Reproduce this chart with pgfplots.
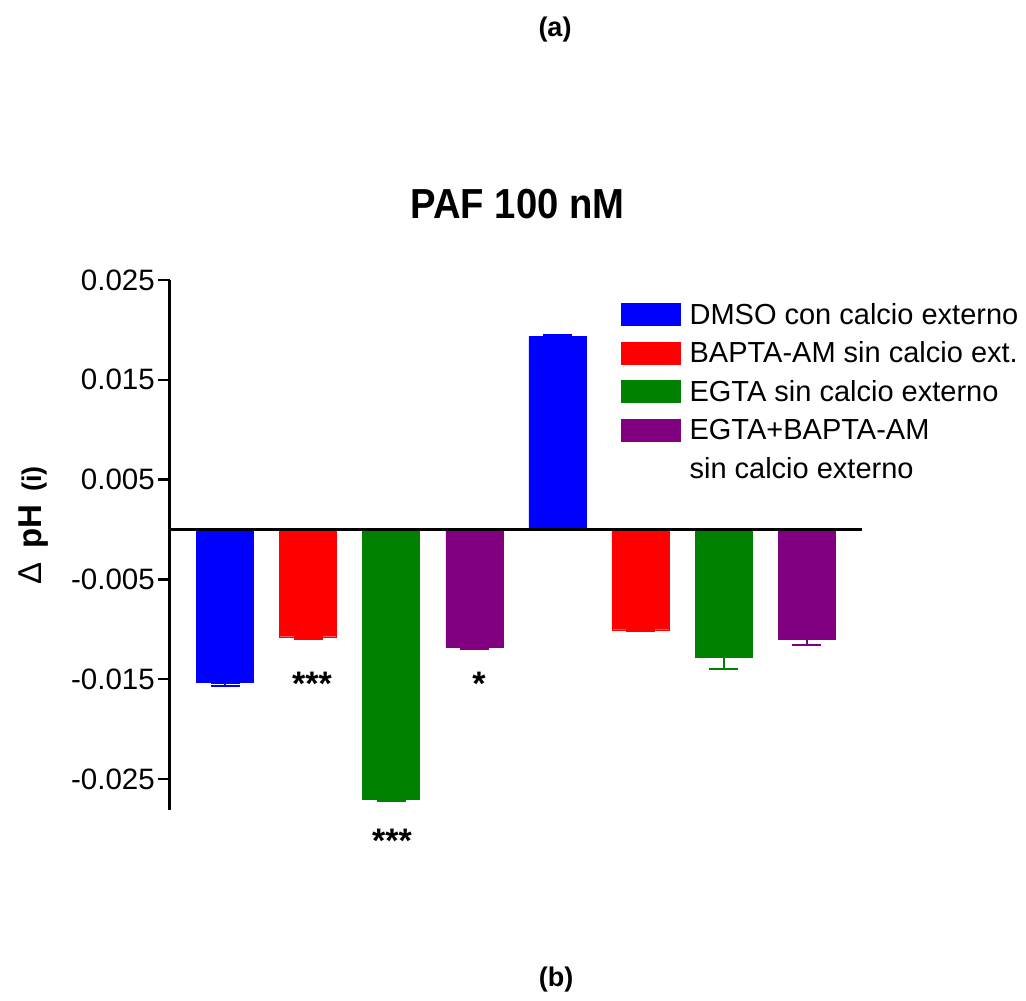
\documentclass[border=0pt]{standalone}
\usepackage{fontspec}
\setmainfont{Liberation Sans}
\usepackage{graphicx}
\usepackage{pgfplots}
\pgfplotsset{compat=1.18}
\definecolor{cblue}{RGB}{0,0,255}
\definecolor{cred}{RGB}{255,0,0}
\definecolor{cgreen}{RGB}{0,128,0}
\definecolor{cpurple}{RGB}{128,0,128}
\begin{document}
\begin{tikzpicture}
\path[use as bounding box] (-170pt,-191pt) rectangle (856pt,810pt);
\begin{axis}[
  at={(0pt,0pt)}, anchor=south west,
  scale only axis, width=692pt, height=530pt,
  xmin=-0.662, xmax=7.666, ymin=-0.0281, ymax=0.025,
  axis x line=none, axis y line=left,
  y axis line style={-, line width=3pt},
  ytick={-0.025,-0.015,-0.005,0.005,0.015,0.025},
  yticklabels={-0.025,-0.015,-0.005,0.005,0.015,0.025},
  scaled y ticks=false,
  tick align=outside, major tick length=12pt,
  tick style={line width=2.5pt, black},
  yticklabel style={font=\fontsize{29.5}{34}\selectfont, inner sep=0pt, xshift=-3pt},
  ybar, bar width=57pt, bar shift=0pt,
  clip=false,
  legend style={draw=none, fill=none, at={(0.6517,0.9566)}, anchor=north west,
    inner sep=0pt, nodes={inner sep=0pt}, row sep=16pt, column sep=9pt,
    font=\fontsize{29}{34}\selectfont},
  legend cell align=left,
]
\addplot[bar shift=0pt, fill=cblue, draw=cblue,
  legend image code/.code={\fill[cblue] (0pt,-11pt) rectangle (59pt,11pt);},
  error bars/.cd, y dir=both, y explicit,
  error bar style={line width=2pt, cblue},
  error mark options={cblue, line width=2pt, mark size=14.5pt, rotate=90}]
  coordinates {(0,-0.01534) += (0,0) -= (0,0.0003) (4,0.01933) += (0,0.00017) -= (0,0)};
\addlegendentry{DMSO con calcio externo}
\addplot[bar shift=0pt, fill=cred, draw=cred,
  legend image code/.code={\fill[cred] (0pt,-11pt) rectangle (59pt,11pt);},
  error bars/.cd, y dir=both, y explicit,
  error bar style={line width=2pt, cred},
  error mark options={cred, line width=2pt, mark size=14.5pt, rotate=90}]
  coordinates {(1,-0.01074) += (0,0) -= (0,0.00026) (5,-0.01004) += (0,0) -= (0,0.0001)};
\addlegendentry{BAPTA-AM sin calcio ext.}
\addplot[bar shift=0pt, fill=cgreen, draw=cgreen,
  legend image code/.code={\fill[cgreen] (0pt,-11pt) rectangle (59pt,11pt);},
  error bars/.cd, y dir=both, y explicit,
  error bar style={line width=2pt, cgreen},
  error mark options={cgreen, line width=2pt, mark size=14.5pt, rotate=90}]
  coordinates {(2,-0.0270) += (0,0) -= (0,0.0002) (6,-0.01277) += (0,0) -= (0,0.00117)};
\addlegendentry{EGTA sin calcio externo}
\addplot[bar shift=0pt, fill=cpurple, draw=cpurple,
  legend image code/.code={\fill[cpurple] (0pt,-11pt) rectangle (59pt,11pt);},
  error bars/.cd, y dir=both, y explicit,
  error bar style={line width=2pt, cpurple},
  error mark options={cpurple, line width=2pt, mark size=14.5pt, rotate=90}]
  coordinates {(3,-0.0118) += (0,0) -= (0,0.0002) (7,-0.01097) += (0,0) -= (0,0.00063)};
\addlegendentry{EGTA+BAPTA-AM}
\addlegendimage{empty legend}
\addlegendentry{sin calcio externo}
\draw[line width=2.5pt, black] (axis cs:-0.662,0) -- (axis cs:7.666,0);
\end{axis}
\node[anchor=base] at (347.5pt,591pt) {\scalebox{0.91}[1]{\fontsize{42}{46}\selectfont\bfseries PAF 100 nM}};
\node[anchor=base, rotate=90, inner sep=0pt] at (-128pt,284.5pt) {\fontsize{33}{36}\selectfont Δ\hspace{14pt}\bfseries pH\hspace{13pt}\fontsize{27}{30}\selectfont (i)};
\node[anchor=base, inner sep=0pt] at (142pt,114pt) {\fontsize{34}{38}\selectfont\bfseries ***};
\node[anchor=base, inner sep=0pt] at (309pt,114pt) {\fontsize{34}{38}\selectfont\bfseries *};
\node[anchor=base, inner sep=0pt] at (222pt,-43pt) {\fontsize{34}{38}\selectfont\bfseries ***};
\node[anchor=center, inner sep=0pt] at (385pt,780pt) {\fontsize{27}{30}\selectfont\bfseries (a)};
\node[anchor=center, inner sep=0pt] at (386pt,-170pt) {\fontsize{27}{30}\selectfont\bfseries (b)};
\end{tikzpicture}
\end{document}
